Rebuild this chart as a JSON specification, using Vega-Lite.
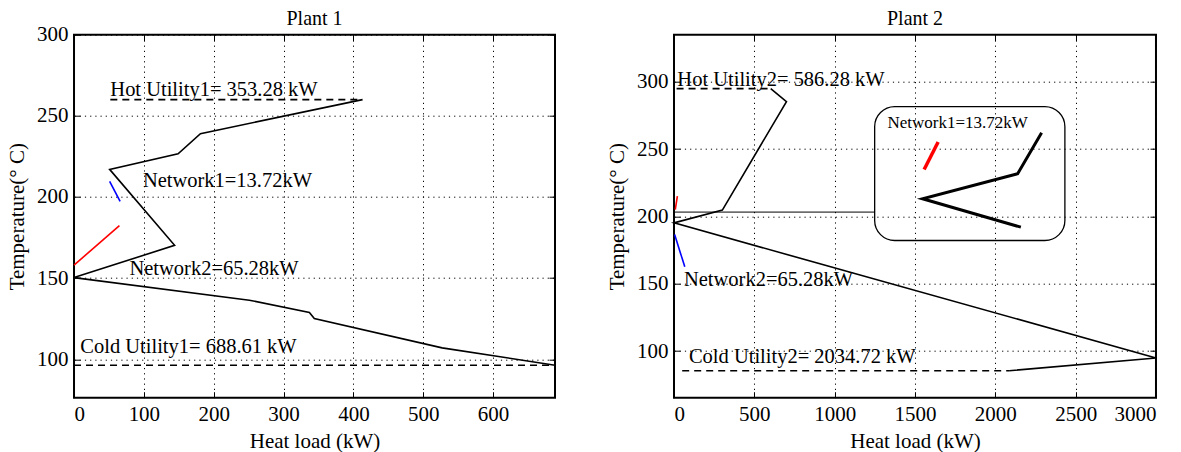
{
  "$schema": "https://vega.github.io/schema/vega-lite/v6.json",
  "background": "white",
  "padding": {"left": 5, "top": 6.7, "right": 5, "bottom": 0},
  "bounds": "flush",
  "spacing": 119,
  "config": {
    "font": "Liberation Serif",
    "view": {"stroke": "black", "strokeWidth": 2},
    "axis": {
      "grid": true, "gridColor": "black", "gridDash": [1.2, 4], "gridWidth": 1, "gridOpacity": 1,
      "domain": false, "tickColor": "black", "tickSize": -6, "tickWidth": 1,
      "labelFont": "Liberation Serif", "labelFontSize": 21, "labelColor": "black",
      "titleFont": "Liberation Serif", "titleFontSize": 21, "titleFontWeight": "normal", "titleColor": "black"
    },
    "axisY": {"minExtent": 40, "maxExtent": 40, "titlePadding": 6.5, "labelPadding": 12},
    "axisX": {"labelPadding": 12, "titlePadding": 6, "format": "d"},
    "title": {"font": "Liberation Serif", "fontSize": 20, "fontWeight": "normal", "color": "black"}
  },
  "hconcat": [
    {
      "title": {"text": "Plant 1", "offset": -4.9},
      "width": 481,
      "height": 363,
      "data": {"values": [
        {"s": "curve", "o": 1, "x": 413, "y": 260},
        {"s": "curve", "o": 2, "x": 181, "y": 239},
        {"s": "curve", "o": 3, "x": 149, "y": 226.6},
        {"s": "curve", "o": 4, "x": 51, "y": 217},
        {"s": "curve", "o": 5, "x": 144, "y": 170.2},
        {"s": "curve", "o": 6, "x": 0, "y": 150.3},
        {"s": "curve", "o": 7, "x": 251, "y": 136.4},
        {"s": "curve", "o": 8, "x": 337, "y": 128.8},
        {"s": "curve", "o": 9, "x": 344, "y": 125.1},
        {"s": "curve", "o": 10, "x": 527, "y": 107},
        {"s": "curve", "o": 11, "x": 688.61, "y": 96.3},
        {"s": "hot", "o": 1, "x": 52, "y": 260},
        {"s": "hot", "o": 2, "x": 413, "y": 260},
        {"s": "cold", "o": 1, "x": 0, "y": 96.3},
        {"s": "cold", "o": 2, "x": 688.61, "y": 96.3},
        {"s": "red", "o": 1, "x": 0, "y": 158},
        {"s": "red", "o": 2, "x": 65, "y": 182.3},
        {"s": "blue", "o": 1, "x": 51, "y": 209.6},
        {"s": "blue", "o": 2, "x": 66, "y": 197.3},
        {"s": "label", "x": 52, "y": 262, "t": "Hot Utility1= 353.28 kW"},
        {"s": "label", "x": 98.6, "y": 206.1, "t": "Network1=13.72kW"},
        {"s": "label", "x": 79.4, "y": 151.8, "t": "Network2=65.28kW"},
        {"s": "label", "x": 9, "y": 103.6, "t": "Cold Utility1= 688.61 kW"}
      ]},
      "encoding": {
        "x": {"field": "x", "type": "quantitative", "scale": {"domain": [0, 688.61], "nice": false, "zero": false},
              "axis": {"values": [0, 100, 200, 300, 400, 500, 600], "title": "Heat load (kW)"}},
        "y": {"field": "y", "type": "quantitative", "scale": {"domain": [76.3, 300], "nice": false, "zero": false},
              "axis": {"values": [100, 150, 200, 250, 300], "title": "Temperature(° C)"}}
      },
      "resolve": {"axis": {"x": "independent", "y": "independent"}},
      "layer": [
        {"layer": [
          {"transform": [{"filter": "datum.s === 'curve'"}], "mark": {"type": "line", "color": "black", "strokeWidth": 1.6}, "encoding": {"order": {"field": "o"}}},
          {"transform": [{"filter": "datum.s === 'hot' || datum.s === 'cold'"}], "mark": {"type": "line", "color": "black", "strokeWidth": 1.6, "strokeDash": [7, 5]}, "encoding": {"detail": {"field": "s"}, "order": {"field": "o"}}},
          {"transform": [{"filter": "datum.s === 'red'"}], "mark": {"type": "line", "color": "red", "strokeWidth": 1.6}, "encoding": {"order": {"field": "o"}}},
          {"transform": [{"filter": "datum.s === 'blue'"}], "mark": {"type": "line", "color": "blue", "strokeWidth": 1.6}, "encoding": {"order": {"field": "o"}}},
          {"transform": [{"filter": "datum.s === 'label'"}], "mark": {"type": "text", "align": "left", "baseline": "alphabetic", "fontSize": 20.5, "font": "Liberation Serif", "color": "black"}, "encoding": {"text": {"field": "t"}}}
        ]},
        {"transform": [{"filter": "datum.s === 'curve'"}], "mark": {"type": "point", "opacity": 0},
         "encoding": {
           "x": {"field": "x", "type": "quantitative", "scale": {"domain": [0, 688.61], "nice": false, "zero": false},
                 "axis": {"orient": "top", "values": [0, 100, 200, 300, 400, 500, 600], "labels": false, "grid": false, "title": null, "minExtent": 0, "maxExtent": 0}},
           "y": {"field": "y", "type": "quantitative", "scale": {"domain": [76.3, 300], "nice": false, "zero": false},
                 "axis": {"orient": "right", "values": [100, 150, 200, 250, 300], "labels": false, "grid": false, "title": null, "minExtent": 0, "maxExtent": 0}}
         }}
      ]
    },
    {
      "title": {"text": "Plant 2", "offset": 5.6},
      "width": 482,
      "height": 363,
      "data": {"values": [
        {"s": "curve", "o": 1, "x": 602, "y": 294.8},
        {"s": "curve", "o": 2, "x": 700, "y": 285.1},
        {"s": "curve", "o": 3, "x": 301, "y": 204.7},
        {"s": "curve", "o": 4, "x": 0, "y": 195.2},
        {"s": "curve", "o": 5, "x": 3000, "y": 95},
        {"s": "curve", "o": 6, "x": 2086, "y": 85.5},
        {"s": "hot", "o": 1, "x": 16, "y": 294.8},
        {"s": "hot", "o": 2, "x": 602, "y": 294.8},
        {"s": "cold", "o": 1, "x": 51, "y": 85.5},
        {"s": "cold", "o": 2, "x": 2086, "y": 85.5},
        {"s": "red", "o": 1, "x": 8, "y": 205},
        {"s": "red", "o": 2, "x": 21, "y": 215},
        {"s": "blue", "o": 1, "x": 4, "y": 186.6},
        {"s": "blue", "o": 2, "x": 67, "y": 162.6},
        {"s": "conn", "o": 1, "x": 0, "y": 203.2},
        {"s": "conn", "o": 2, "x": 1249, "y": 203.2},
        {"s": "ired", "o": 1, "x": 1557, "y": 234.8},
        {"s": "ired", "o": 2, "x": 1644, "y": 255.2},
        {"s": "iblack", "o": 1, "x": 2288, "y": 262.1},
        {"s": "iblack", "o": 2, "x": 2139, "y": 231.6},
        {"s": "iblack", "o": 3, "x": 1547, "y": 213.1},
        {"s": "iblack", "o": 4, "x": 2159, "y": 192},
        {"s": "box", "x": 1249, "x2": 2433, "y": 182.1, "y2": 281.4},
        {"s": "label", "x": 21, "y": 296.8, "t": "Hot Utility2= 586.28 kW"},
        {"s": "label", "x": 62, "y": 148.2, "t": "Network2=65.28kW"},
        {"s": "label", "x": 93, "y": 91.2, "t": "Cold Utility2= 2034.72 kW"},
        {"s": "ilabel", "x": 1329, "y": 265.3, "t": "Network1=13.72kW"}
      ]},
      "encoding": {
        "x": {"field": "x", "type": "quantitative", "scale": {"domain": [0, 3000], "nice": false, "zero": false},
              "axis": {"values": [0, 500, 1000, 1500, 2000, 2500, 3000], "title": "Heat load (kW)"}},
        "y": {"field": "y", "type": "quantitative", "scale": {"domain": [65.5, 334.8], "nice": false, "zero": false},
              "axis": {"values": [100, 150, 200, 250, 300], "title": "Temperature(° C)"}}
      },
      "resolve": {"axis": {"x": "independent", "y": "independent"}},
      "layer": [
        {"layer": [
          {"transform": [{"filter": "datum.s === 'box'"}], "mark": {"type": "rect", "filled": false, "stroke": "black", "strokeWidth": 1.3, "cornerRadius": 20}, "encoding": {"x2": {"field": "x2"}, "y2": {"field": "y2"}}},
          {"transform": [{"filter": "datum.s === 'conn'"}], "mark": {"type": "line", "color": "black", "strokeWidth": 1}, "encoding": {"order": {"field": "o"}}},
          {"transform": [{"filter": "datum.s === 'curve'"}], "mark": {"type": "line", "color": "black", "strokeWidth": 1.6}, "encoding": {"order": {"field": "o"}}},
          {"transform": [{"filter": "datum.s === 'hot' || datum.s === 'cold'"}], "mark": {"type": "line", "color": "black", "strokeWidth": 1.6, "strokeDash": [7, 5]}, "encoding": {"detail": {"field": "s"}, "order": {"field": "o"}}},
          {"transform": [{"filter": "datum.s === 'red'"}], "mark": {"type": "line", "color": "red", "strokeWidth": 1.6}, "encoding": {"order": {"field": "o"}}},
          {"transform": [{"filter": "datum.s === 'blue'"}], "mark": {"type": "line", "color": "blue", "strokeWidth": 1.6}, "encoding": {"order": {"field": "o"}}},
          {"transform": [{"filter": "datum.s === 'ired'"}], "mark": {"type": "line", "color": "red", "strokeWidth": 3.5}, "encoding": {"order": {"field": "o"}}},
          {"transform": [{"filter": "datum.s === 'iblack'"}], "mark": {"type": "line", "color": "black", "strokeWidth": 3}, "encoding": {"order": {"field": "o"}}},
          {"transform": [{"filter": "datum.s === 'label'"}], "mark": {"type": "text", "align": "left", "baseline": "alphabetic", "fontSize": 20.5, "font": "Liberation Serif", "color": "black"}, "encoding": {"text": {"field": "t"}}},
          {"transform": [{"filter": "datum.s === 'ilabel'"}], "mark": {"type": "text", "align": "left", "baseline": "alphabetic", "fontSize": 17, "font": "Liberation Serif", "color": "black"}, "encoding": {"text": {"field": "t"}}}
        ]},
        {"transform": [{"filter": "datum.s === 'curve'"}], "mark": {"type": "point", "opacity": 0},
         "encoding": {
           "x": {"field": "x", "type": "quantitative", "scale": {"domain": [0, 3000], "nice": false, "zero": false},
                 "axis": {"orient": "top", "values": [0, 500, 1000, 1500, 2000, 2500, 3000], "labels": false, "grid": false, "title": null, "minExtent": 0, "maxExtent": 0}},
           "y": {"field": "y", "type": "quantitative", "scale": {"domain": [65.5, 334.8], "nice": false, "zero": false},
                 "axis": {"orient": "right", "values": [100, 150, 200, 250, 300], "labels": false, "grid": false, "title": null, "minExtent": 0, "maxExtent": 0}}
         }}
      ]
    }
  ]
}
